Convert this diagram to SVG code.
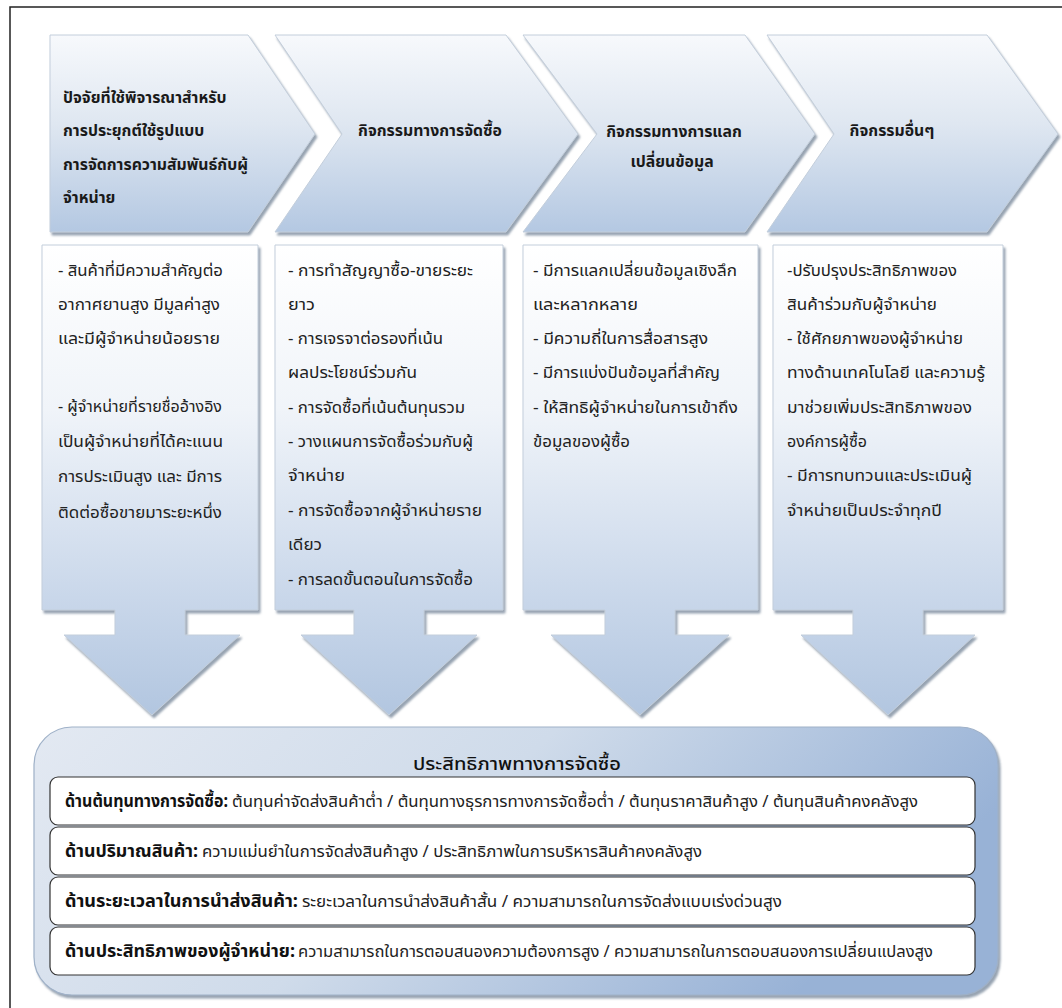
<svg xmlns="http://www.w3.org/2000/svg" width="1062" height="1008" viewBox="0 0 1062 1008">
<defs>
<linearGradient id="gChev" x1="0" y1="0" x2="0" y2="1">
<stop offset="0" stop-color="#f7f9fc"/>
<stop offset="0.45" stop-color="#dfe7f1"/>
<stop offset="1" stop-color="#b4c8e2"/>
</linearGradient>
<linearGradient id="gBox" x1="0" y1="0" x2="0" y2="1">
<stop offset="0" stop-color="#ffffff"/>
<stop offset="0.35" stop-color="#f0f4f9"/>
<stop offset="0.75" stop-color="#c9d7ea"/>
<stop offset="1" stop-color="#b2c6e0"/>
</linearGradient>
<linearGradient id="gBottom" x1="0" y1="0" x2="1" y2="0.3">
<stop offset="0" stop-color="#e3e9f2"/>
<stop offset="0.5" stop-color="#cfdbea"/>
<stop offset="1" stop-color="#98b2d6"/>
</linearGradient>
<filter id="sh" x="-5%" y="-5%" width="115%" height="115%">
<feDropShadow dx="2" dy="3" stdDeviation="1.2" flood-color="#6b7c90" flood-opacity="0.7"/>
</filter>
</defs>
<style>
.chev{fill:url(#gChev);stroke:#c3cedb;stroke-width:1;filter:url(#sh)}
.box{fill:url(#gBox);stroke:#c3cedb;stroke-width:1;filter:url(#sh)}
.hd{font-family:"Noto Sans Thai","Noto Sans","DejaVu Sans",sans-serif;font-size:15.8px;font-weight:bold;fill:#1a1a1a}
.tx{font-family:"Noto Sans Thai","Noto Sans","DejaVu Sans",sans-serif;font-size:15.5px;fill:#222}
.row{fill:#ffffff;stroke:#333;stroke-width:1.2}
.lb{font-family:"Noto Sans Thai","Noto Sans","DejaVu Sans",sans-serif;font-size:17px;font-weight:bold;fill:#111}
.rt{font-family:"Noto Sans Thai","Noto Sans","DejaVu Sans",sans-serif;font-size:16px;fill:#222}
.ttl{font-family:"Noto Sans Thai","Noto Sans","DejaVu Sans",sans-serif;font-size:18px;font-weight:500;fill:#111}
</style>
<rect x="10" y="7" width="1070" height="1020" fill="#ffffff" stroke="#222" stroke-width="1.5"/>

<g id="chevron1">
<path class="chev" d="M50,35 H248 L315,134 L248,232 H50 Z"/>
<text class="hd" x="63" y="103">ปัจจัยที่ใช้พิจารณาสำหรับ</text>
<text class="hd" x="63" y="136">การประยุกต์ใช้รูปแบบ</text>
<text class="hd" x="63" y="170">การจัดการความสัมพันธ์กับผู้</text>
<text class="hd" x="63" y="203">จำหน่าย</text>
</g>
<g id="chevron2">
<path class="chev" d="M275,35 H506 L578,134 L506,232 H275 L342,134 Z"/>
<text class="hd" x="430" y="136" text-anchor="middle">กิจกรรมทางการจัดซื้อ</text>
</g>
<g id="chevron3">
<path class="chev" d="M523,35 H745 L815,134 L745,232 H523 L597,134 Z"/>
<text class="hd" x="674" y="137" text-anchor="middle">กิจกรรมทางการแลก</text>
<text class="hd" x="672" y="167" text-anchor="middle">เปลี่ยนข้อมูล</text>
</g>
<g id="chevron4">
<path class="chev" d="M767,35 H987 L1058,134 L987,232 H767 L834,134 Z"/>
<text class="hd" x="892" y="136" text-anchor="middle">กิจกรรมอื่นๆ</text>
</g>

<g id="box1">
<path class="box" d="M42,245 H258 V610 H185 V635 H240 L152,715 L64,635 H115 V610 H42 Z"/>
<text class="tx" x="58" y="276" textLength="165" lengthAdjust="spacingAndGlyphs">- สินค้าที่มีความสำคัญต่อ</text>
<text class="tx" x="58" y="310" textLength="162" lengthAdjust="spacingAndGlyphs">อากาศยานสูง มีมูลค่าสูง</text>
<text class="tx" x="58" y="344" textLength="162" lengthAdjust="spacingAndGlyphs">และมีผู้จำหน่ายน้อยราย</text>
<text class="tx" x="58" y="412" textLength="164" lengthAdjust="spacingAndGlyphs">- ผู้จำหน่ายที่รายชื่ออ้างอิง</text>
<text class="tx" x="58" y="447" textLength="165" lengthAdjust="spacingAndGlyphs">เป็นผู้จำหน่ายที่ได้คะแนน</text>
<text class="tx" x="58" y="482" textLength="164" lengthAdjust="spacingAndGlyphs">การประเมินสูง และ มีการ</text>
<text class="tx" x="58" y="518" textLength="164" lengthAdjust="spacingAndGlyphs">ติดต่อซื้อขายมาระยะหนึ่ง</text>
</g>
<g id="box2">
<path class="box" d="M275,245 H503 V610 H424 V635 H477 L389,715 L301,635 H354 V610 H275 Z"/>
<text class="tx" x="288" y="276" textLength="185" lengthAdjust="spacingAndGlyphs">- การทำสัญญาซื้อ-ขายระยะ</text>
<text class="tx" x="288" y="310" textLength="27" lengthAdjust="spacingAndGlyphs">ยาว</text>
<text class="tx" x="288" y="344" textLength="155" lengthAdjust="spacingAndGlyphs">- การเจรจาต่อรองที่เน้น</text>
<text class="tx" x="288" y="378" textLength="129" lengthAdjust="spacingAndGlyphs">ผลประโยชน์ร่วมกัน</text>
<text class="tx" x="288" y="413" textLength="177" lengthAdjust="spacingAndGlyphs">- การจัดซื้อที่เน้นต้นทุนรวม</text>
<text class="tx" x="288" y="447" textLength="185" lengthAdjust="spacingAndGlyphs">- วางแผนการจัดซื้อร่วมกับผู้</text>
<text class="tx" x="288" y="481" textLength="57" lengthAdjust="spacingAndGlyphs">จำหน่าย</text>
<text class="tx" x="288" y="516" textLength="194" lengthAdjust="spacingAndGlyphs">- การจัดซื้อจากผู้จำหน่ายราย</text>
<text class="tx" x="288" y="550" textLength="34" lengthAdjust="spacingAndGlyphs">เดียว</text>
<text class="tx" x="288" y="585" textLength="185" lengthAdjust="spacingAndGlyphs">- การลดขั้นตอนในการจัดซื้อ</text>
</g>
<g id="box3">
<path class="box" d="M523,245 H758 V610 H675 V635 H729 L640,715 L551,635 H605 V610 H523 Z"/>
<text class="tx" x="533" y="276" textLength="204" lengthAdjust="spacingAndGlyphs">- มีการแลกเปลี่ยนข้อมูลเชิงลึก</text>
<text class="tx" x="533" y="310" textLength="105" lengthAdjust="spacingAndGlyphs">และหลากหลาย</text>
<text class="tx" x="533" y="344" textLength="175" lengthAdjust="spacingAndGlyphs">- มีความถี่ในการสื่อสารสูง</text>
<text class="tx" x="533" y="378" textLength="187" lengthAdjust="spacingAndGlyphs">- มีการแบ่งปันข้อมูลที่สำคัญ</text>
<text class="tx" x="533" y="413" textLength="205" lengthAdjust="spacingAndGlyphs">- ให้สิทธิผู้จำหน่ายในการเข้าถึง</text>
<text class="tx" x="533" y="447" textLength="97" lengthAdjust="spacingAndGlyphs">ข้อมูลของผู้ซื้อ</text>
</g>
<g id="box4">
<path class="box" d="M773,245 H1003 V610 H923 V635 H975 L888,715 L801,635 H853 V610 H773 Z"/>
<text class="tx" x="787" y="276" textLength="170" lengthAdjust="spacingAndGlyphs">-ปรับปรุงประสิทธิภาพของ</text>
<text class="tx" x="787" y="310" textLength="150" lengthAdjust="spacingAndGlyphs">สินค้าร่วมกับผู้จำหน่าย</text>
<text class="tx" x="787" y="344" textLength="176" lengthAdjust="spacingAndGlyphs">- ใช้ศักยภาพของผู้จำหน่าย</text>
<text class="tx" x="787" y="378" textLength="198" lengthAdjust="spacingAndGlyphs">ทางด้านเทคโนโลยี และความรู้</text>
<text class="tx" x="787" y="413" textLength="185" lengthAdjust="spacingAndGlyphs">มาช่วยเพิ่มประสิทธิภาพของ</text>
<text class="tx" x="787" y="447" textLength="80" lengthAdjust="spacingAndGlyphs">องค์การผู้ซื้อ</text>
<text class="tx" x="787" y="481" textLength="185" lengthAdjust="spacingAndGlyphs">- มีการทบทวนและประเมินผู้</text>
<text class="tx" x="787" y="516" textLength="155" lengthAdjust="spacingAndGlyphs">จำหน่ายเป็นประจำทุกปี</text>
</g>

<g id="efficiency">
<rect x="34" y="727" width="964" height="268" rx="38" ry="38" fill="url(#gBottom)" stroke="#9fb1c8" stroke-width="1.2" filter="url(#sh)"/>
<text class="ttl" x="413" y="770" textLength="208" lengthAdjust="spacingAndGlyphs">ประสิทธิภาพทางการจัดซื้อ</text>
<rect class="row" x="50" y="777" width="925" height="48" rx="8"/>
<text class="lb" x="65" y="807" textLength="163" lengthAdjust="spacingAndGlyphs">ด้านต้นทุนทางการจัดซื้อ:</text>
<text class="rt" x="232" y="807" textLength="686" lengthAdjust="spacingAndGlyphs">ต้นทุนค่าจัดส่งสินค้าต่ำ / ต้นทุนทางธุรการทางการจัดซื้อต่ำ / ต้นทุนราคาสินค้าสูง / ต้นทุนสินค้าคงคลังสูง</text>
<rect class="row" x="50" y="827" width="925" height="48" rx="8"/>
<text class="lb" x="65" y="857" textLength="133" lengthAdjust="spacingAndGlyphs">ด้านปริมาณสินค้า:</text>
<text class="rt" x="202" y="857" textLength="500" lengthAdjust="spacingAndGlyphs">ความแม่นยำในการจัดส่งสินค้าสูง / ประสิทธิภาพในการบริหารสินค้าคงคลังสูง</text>
<rect class="row" x="50" y="877" width="925" height="48" rx="8"/>
<text class="lb" x="65" y="907" textLength="233" lengthAdjust="spacingAndGlyphs">ด้านระยะเวลาในการนำส่งสินค้า:</text>
<text class="rt" x="302" y="907" textLength="480" lengthAdjust="spacingAndGlyphs">ระยะเวลาในการนำส่งสินค้าสั้น / ความสามารถในการจัดส่งแบบเร่งด่วนสูง</text>
<rect class="row" x="50" y="927" width="925" height="48" rx="8"/>
<text class="lb" x="65" y="957" textLength="230" lengthAdjust="spacingAndGlyphs">ด้านประสิทธิภาพของผู้จำหน่าย:</text>
<text class="rt" x="298" y="957" textLength="635" lengthAdjust="spacingAndGlyphs">ความสามารถในการตอบสนองความต้องการสูง / ความสามารถในการตอบสนองการเปลี่ยนแปลงสูง</text>
</g>
<g id="connectors"></g>
</svg>
